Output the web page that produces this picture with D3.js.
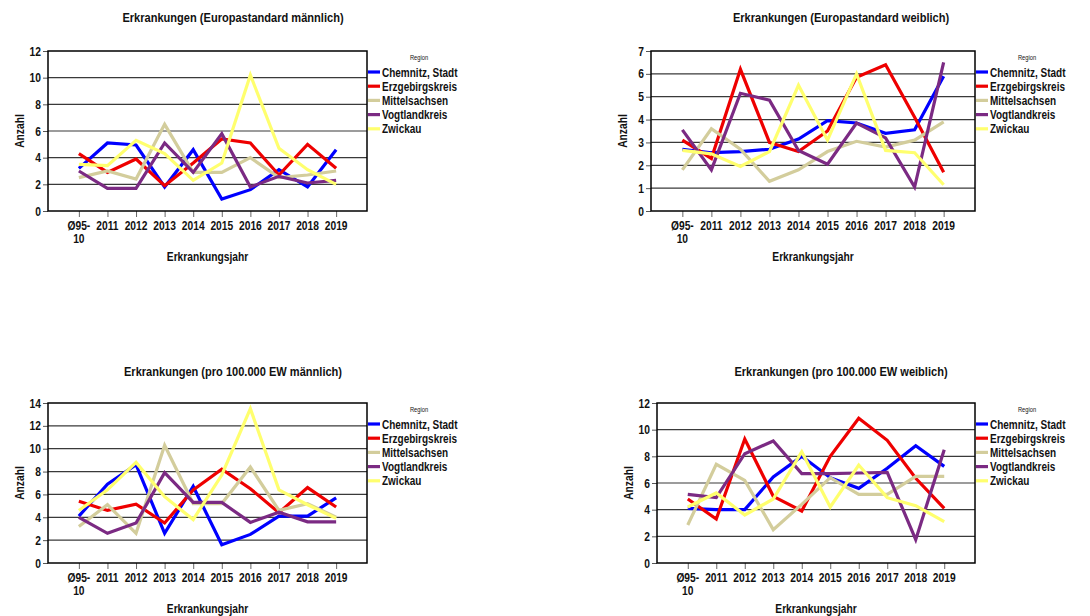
<!DOCTYPE html>
<meta charset="utf-8">
<head>
<script src="https://d3js.org/d3.v7.min.js"></script>
<style>
  body { margin: 0; background: #fff; }
  svg text { font-family: "Liberation Sans", Arial, sans-serif; font-weight: bold; fill: #111; }
</style>
</head>
<body>
<svg id="chart" width="1090" height="616"></svg>
<script>

// categories on the x axis (first one is the 1995-2010 mean)
const years = ["Ø95-10", "2011", "2012", "2013", "2014", "2015", "2016", "2017", "2018", "2019"];

const regions = ["Chemnitz, Stadt", "Erzgebirgskreis", "Mittelsachsen", "Vogtlandkreis", "Zwickau"];
const regionColors = ["#0000ff", "#ee0000", "#d3cd9c", "#7b2a83", "#ffff6e"];

// Europastandard männlich (rows in order of regions)
const euroMale = [
  [3.2, 5.1, 4.95, 1.8, 4.6, 0.9, 1.6, 3.1, 1.8, 4.6],
  [4.3, 2.9, 3.9, 1.9, 3.6, 5.4, 5.1, 2.7, 5.0, 3.2],
  [2.5, 3.0, 2.4, 6.5, 2.9, 2.9, 4.0, 2.5, 2.7, 3.0],
  [3.0, 1.7, 1.7, 5.1, 2.9, 5.8, 1.8, 2.6, 2.1, 2.3],
  [3.5, 3.4, 5.3, 4.3, 2.3, 3.6, 10.2, 4.7, 3.1, 2.0]
];

// Europastandard weiblich
const euroFemale = [
  [2.7, 2.55, 2.6, 2.7, 3.15, 3.95, 3.85, 3.4, 3.55, 5.9],
  [3.1, 2.3, 6.2, 3.0, 2.6, 3.5, 5.85, 6.4, 4.1, 1.7],
  [1.8, 3.6, 2.7, 1.3, 1.8, 2.6, 3.05, 2.8, 3.1, 3.9],
  [3.55, 1.8, 5.15, 4.85, 2.65, 2.05, 3.85, 3.2, 1.05, 6.5],
  [2.65, 2.5, 1.95, 2.6, 5.5, 3.1, 6.0, 2.65, 2.55, 1.15]
];

// pro 100.000 EW männlich
const rateMale = [
  [4.1, 6.9, 8.6, 2.6, 6.7, 1.6, 2.5, 4.1, 4.1, 5.7],
  [5.4, 4.6, 5.15, 3.5, 6.4, 8.2, 6.5, 4.4, 6.6, 4.9],
  [3.2, 5.1, 2.6, 10.3, 5.2, 5.2, 8.4, 4.6, 5.2, 4.0],
  [4.0, 2.6, 3.5, 7.9, 5.3, 5.3, 3.55, 4.45, 3.6, 3.6],
  [4.6, 6.4, 8.8, 5.8, 3.8, 7.7, 13.5, 6.4, 5.1, 3.9]
];

// pro 100.000 EW weiblich
const rateFemale = [
  [4.1, 4.0, 4.0, 6.45, 8.0, 6.4, 5.6, 7.1, 8.8, 7.25],
  [4.8, 3.3, 9.3, 5.0, 3.9, 8.0, 10.85, 9.2, 6.35, 4.1],
  [2.85, 7.4, 6.2, 2.5, 4.4, 6.4, 5.15, 5.15, 6.5, 6.5],
  [5.15, 4.9, 8.2, 9.15, 6.7, 6.7, 6.75, 6.8, 1.75, 8.5],
  [4.2, 5.25, 3.6, 4.8, 8.35, 4.2, 7.35, 4.9, 4.3, 3.1]
];

const panels = [
  {title: "Erkrankungen (Europastandard männlich)", data: euroMale, max: 12, step: 2,
   left: 48, right: 367, top: 51, bottom: 211, titleX: 233, titleY: 22},
  {title: "Erkrankungen (Europastandard weiblich)", data: euroFemale, max: 7, step: 1,
   left: 651, right: 975, top: 51, bottom: 211, titleX: 841, titleY: 22},
  {title: "Erkrankungen (pro 100.000 EW männlich)", data: rateMale, max: 14, step: 2,
   left: 48, right: 367, top: 403, bottom: 563, titleX: 233, titleY: 376},
  {title: "Erkrankungen (pro 100.000 EW weiblich)", data: rateFemale, max: 12, step: 2,
   left: 657, right: 975, top: 403, bottom: 563, titleX: 841, titleY: 376}
];

// the original uses a narrow bold face; squeeze Liberation Sans horizontally
const SQUEEZE = 0.82;

var svg = d3.select("#chart");

panels.forEach(drawPanel);

function narrowText(parent, x, y, str, size, anchor) {
  return parent.append("text")
      .attr("transform", "translate(" + x + "," + y + ") scale(" + SQUEEZE + ",1)")
      .attr("text-anchor", anchor || "start")
      .attr("font-size", size)
      .text(str);
}

function drawPanel(p) {
  var g = svg.append("g");

  var x = d3.scalePoint()
      .domain(years)
      .range([p.left, p.right])
      .padding(1.08);

  var y = d3.scaleLinear()
      .domain([0, p.max])
      .range([p.bottom, p.top]);

  var ticks = d3.range(0, p.max + 0.001, p.step);

  // title
  narrowText(g, p.titleX, p.titleY, p.title, 13.5, "middle");

  // grid lines
  g.append("g")
    .selectAll("line")
    .data(ticks.slice(1, -1))
    .enter()
    .append("line")
      .attr("x1", p.left)
      .attr("x2", p.right)
      .attr("y1", d => y(d))
      .attr("y2", d => y(d))
      .attr("stroke", "#3a3a3a")
      .attr("stroke-width", 1.2);

  // y axis
  var yAxis = g.append("g")
      .attr("transform", "translate(" + p.left + ",0)")
      .call(d3.axisLeft(y).tickValues(ticks).tickSize(5).tickFormat(d3.format("d")));
  yAxis.select(".domain").remove();
  yAxis.selectAll(".tick line").attr("stroke", "#555");
  yAxis.selectAll(".tick text")
      .attr("x", -7 / SQUEEZE)
      .attr("transform", "scale(" + SQUEEZE + ",1)")
      .attr("font-size", 12.5)
      .style("font-family", null);

  // x axis
  var xAxis = g.append("g")
      .attr("transform", "translate(0," + p.bottom + ")")
      .call(d3.axisBottom(x).tickSize(6).tickFormat(""));
  xAxis.select(".domain").remove();
  xAxis.selectAll(".tick line").attr("stroke", "#666");

  // two-line category labels
  years.forEach(function(d) {
    var t = narrowText(g, x(d), p.bottom + 19, null, 12.5, "middle");
    var parts = d.startsWith("Ø") ? ["Ø95-", "10"] : [d];
    parts.forEach(function(s, i) {
      t.append("tspan").attr("x", 0).attr("dy", i == 0 ? 0 : 13).text(s);
    });
  });

  // frame
  g.append("rect")
      .attr("x", p.left)
      .attr("y", p.top)
      .attr("width", p.right - p.left)
      .attr("height", p.bottom - p.top)
      .attr("fill", "none")
      .attr("stroke", "#000")
      .attr("stroke-width", 1.5);

  // lines
  var line = d3.line()
      .x((d, i) => x(years[i]))
      .y(d => y(d));

  g.append("g")
    .selectAll("path")
    .data(p.data)
    .enter()
    .append("path")
      .attr("d", line)
      .attr("fill", "none")
      .attr("stroke", (d, i) => regionColors[i])
      .attr("stroke-width", 3.2)
      .attr("stroke-linejoin", "miter");

  // axis titles
  var midX = (p.left + p.right) / 2,
      midY = (p.top + p.bottom) / 2;

  narrowText(g, midX, p.bottom + 50, "Erkrankungsjahr", 12.5, "middle");

  g.append("text")
      .attr("transform", "translate(" + (p.left - 24) + "," + midY + ") rotate(-90) scale(" + SQUEEZE + ",1)")
      .attr("text-anchor", "middle")
      .attr("font-size", 12.5)
      .text("Anzahl");

  // legend
  var lg = g.append("g")
      .attr("transform", "translate(" + (p.right + 1) + "," + p.top + ")");

  narrowText(lg, 44, 9, "Region", 7, "middle")
      .attr("transform", "translate(51,9) scale(" + SQUEEZE + ",1)")
      .style("font-weight", "normal")
      .attr("fill", "#333");

  regions.forEach(function(r, i) {
    var ry = 21 + i * 14.2;
    lg.append("line")
        .attr("x1", 0)
        .attr("x2", 12)
        .attr("y1", ry)
        .attr("y2", ry)
        .attr("stroke", regionColors[i])
        .attr("stroke-width", 3.2);
    narrowText(lg, 14, ry + 4.5, r, 12.2);
  });
}

</script>
</body>
</html>
